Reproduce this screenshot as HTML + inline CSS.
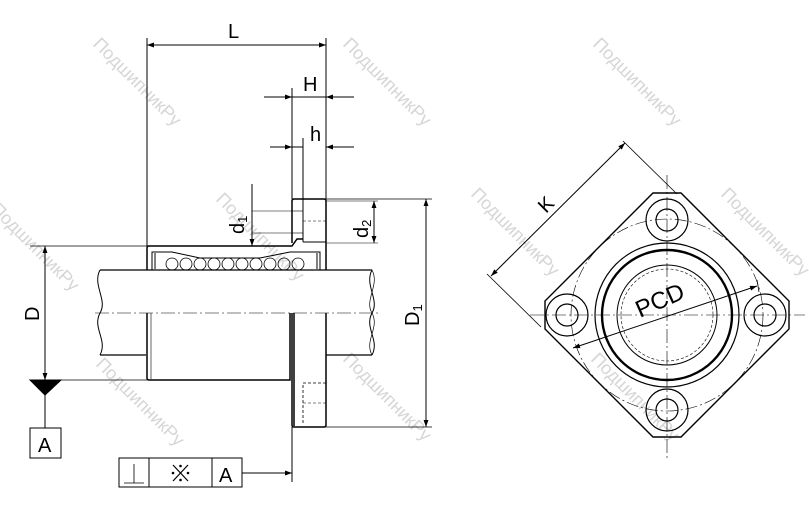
<!DOCTYPE html>
<html><head><meta charset="utf-8"><style>
html,body{margin:0;padding:0;background:#fff;}
svg{display:block;}
text{font-family:"Liberation Sans",sans-serif;}
</style></head><body>
<svg width="809" height="514" viewBox="0 0 809 514" xmlns="http://www.w3.org/2000/svg">
<defs>
<marker id="a" viewBox="0 0 10 10" refX="10" refY="5" markerWidth="9" markerHeight="7" orient="auto-start-reverse" markerUnits="userSpaceOnUse"><path d="M0,1.5 L10,5 L0,8.5 z" fill="#000"/></marker>
</defs>
<g fill="#d6d6d6" font-size="18" font-family="Liberation Serif,serif">
<text transform="translate(92,45) rotate(45)">ПодшипникРу</text>
<text transform="translate(342,45) rotate(45)">ПодшипникРу</text>
<text transform="translate(592,45) rotate(45)">ПодшипникРу</text>
<text transform="translate(-10,210) rotate(45)">ПодшипникРу</text>
<text transform="translate(215,200) rotate(45)">ПодшипникРу</text>
<text transform="translate(470,195) rotate(45)">ПодшипникРу</text>
<text transform="translate(720,195) rotate(45)">ПодшипникРу</text>
<text transform="translate(95,365) rotate(45)">ПодшипникРу</text>
<text transform="translate(342,360) rotate(45)">ПодшипникРу</text>
<text transform="translate(590,360) rotate(45)">ПодшипникРу</text>
</g>
<g stroke="#000" fill="none" stroke-width="1">
<line x1="147" y1="38" x2="147" y2="246"/>
<line x1="326" y1="38" x2="326" y2="199"/>
<line x1="147" y1="45" x2="326" y2="45" marker-start="url(#a)" marker-end="url(#a)"/>
<line x1="292" y1="88" x2="292" y2="199"/>
<line x1="264" y1="97" x2="292" y2="97" marker-end="url(#a)"/>
<line x1="354" y1="97" x2="326" y2="97" marker-end="url(#a)"/>
<line x1="292" y1="97" x2="326" y2="97"/>
<line x1="303" y1="138" x2="303" y2="199"/>
<line x1="275" y1="147" x2="303" y2="147"/>
<line x1="354" y1="147" x2="326" y2="147" marker-end="url(#a)"/>
<line x1="270" y1="147" x2="292" y2="147" marker-end="url(#a)"/>
<path d="M292,243 L292,201 Q292,199 294,199 L324,199 Q326,199 326,201 L326,246" stroke-width="1.5"/>
<line x1="303" y1="199" x2="303" y2="242"/>
<line x1="303" y1="242" x2="326" y2="242"/>
<line x1="292" y1="211" x2="303" y2="211" stroke-width="0.6"/>
<line x1="292" y1="233" x2="303" y2="233" stroke-width="0.6"/>
<line x1="303" y1="221" x2="326" y2="221" stroke-width="0.5" stroke-dasharray="3,2"/>
<path d="M147,270 L147,248 Q147,246 149,246 L292,246 L297,239 L303,239" stroke-width="1.5"/>
<line x1="326" y1="246" x2="326" y2="270" stroke-width="1.5"/>
<path d="M152,270 L152,252 L172,252 L200,258 L260,258 L290,252 L320,252 L320,270"/>
<line x1="155" y1="253" x2="155" y2="269"/>
<line x1="317" y1="253" x2="317" y2="269"/>
<g stroke-width="0.8">
<circle cx="172" cy="264" r="6"/><circle cx="186" cy="264" r="6"/><circle cx="200" cy="264" r="6"/><circle cx="214" cy="264" r="6"/><circle cx="228" cy="264" r="6"/><circle cx="242" cy="264" r="6"/><circle cx="256" cy="264" r="6"/><circle cx="270" cy="264" r="6"/><circle cx="284" cy="264" r="6"/><circle cx="298" cy="264" r="6"/>
</g>
<line x1="100" y1="270" x2="372" y2="270" stroke-width="1.2"/>
<line x1="100" y1="355" x2="146" y2="355" stroke-width="1.2"/>
<line x1="326" y1="355" x2="372" y2="355" stroke-width="1.2"/>
<path d="M100,270 C92,285 108,300 100,313 C92,328 108,340 100,355"/>
<path d="M372,270 C364,285 380,300 372,313 C364,328 380,340 372,355"/>
<path d="M372,270 C380,285 364,300 372,313 C380,328 364,340 372,355" stroke-width="0.7"/>
<line x1="95" y1="313" x2="380" y2="313" stroke-width="0.6" stroke-dasharray="14,3,2,3"/>
<path d="M147,313 L147,378 Q147,380 149,380 L290,380 L290,313" stroke-width="1.5"/>
<line x1="151" y1="313" x2="151" y2="379" stroke-width="0.6"/>
<path d="M292,313 L292,425 Q292,427 294,427 L324,427 Q326,427 326,425 L326,313" stroke-width="1.5"/>
<line x1="294" y1="313" x2="294" y2="426" stroke-width="1.5"/>
<path d="M326,383 L303,383 L303,425" stroke-dasharray="3,2" stroke-width="0.8"/>
<line x1="303" y1="403" x2="326" y2="403" stroke-dasharray="3,2" stroke-width="0.5"/>
<line x1="30" y1="246" x2="147" y2="246" stroke-width="0.8"/>
<line x1="30" y1="380" x2="147" y2="380" stroke-width="0.8"/>
<line x1="45" y1="246" x2="45" y2="380" marker-start="url(#a)" marker-end="url(#a)"/>
<path d="M30,380 L61,380 L45,395 z" fill="#000"/>
<line x1="45" y1="395" x2="45" y2="428"/>
<rect x="30" y="428" width="31" height="30"/>
<line x1="326" y1="199" x2="432" y2="199" stroke-width="0.8"/>
<line x1="326" y1="427" x2="432" y2="427" stroke-width="0.8"/>
<line x1="426" y1="199" x2="426" y2="427" marker-start="url(#a)" marker-end="url(#a)"/>
<line x1="252" y1="184" x2="252" y2="246" marker-end="url(#a)"/>
<line x1="252" y1="211" x2="292" y2="211" stroke-width="0.6"/>
<line x1="252" y1="233" x2="292" y2="233" stroke-width="0.6"/>
<line x1="326" y1="201" x2="378" y2="201" stroke-width="0.6"/>
<line x1="326" y1="243" x2="378" y2="243" stroke-width="0.6"/>
<line x1="374" y1="201" x2="374" y2="243" marker-start="url(#a)" marker-end="url(#a)"/>
<rect x="119" y="458" width="123" height="29"/>
<line x1="149" y1="458" x2="149" y2="487"/>
<line x1="212" y1="458" x2="212" y2="487"/>
<line x1="242" y1="473" x2="292" y2="473" marker-end="url(#a)"/>
<line x1="292" y1="427" x2="292" y2="482"/>
<path d="M124,483 L144,483 M134,483 L134,464" stroke-width="0.8"/>
<path d="M173,465 L188,481 M188,465 L173,481" stroke-width="1.2"/>
<polygon points="653,193 681,193 789,301 789,329 681,437 653,437 545,329 545,301" stroke-width="1.4"/>
<circle cx="667" cy="315" r="96" stroke-width="0.6" stroke-dasharray="12,3,2,3"/>
<circle cx="667" cy="315" r="72" stroke-width="1.2"/>
<circle cx="667" cy="315" r="65" stroke-width="2.4"/>
<circle cx="667" cy="315" r="50" stroke-width="1"/>
<circle cx="667" cy="315" r="46" stroke-width="0.6" stroke-dasharray="3,2"/>
<g stroke-width="1.2">
<circle cx="667" cy="220" r="21"/><circle cx="667" cy="220" r="11"/>
<circle cx="667" cy="410" r="21"/><circle cx="667" cy="410" r="11"/>
<circle cx="567" cy="315" r="21"/><circle cx="567" cy="315" r="11"/>
<circle cx="765" cy="315" r="21"/><circle cx="765" cy="315" r="11"/>
</g>
<line x1="530" y1="315" x2="805" y2="315" stroke-width="0.6" stroke-dasharray="14,3,2,3"/>
<line x1="667" y1="175" x2="667" y2="458" stroke-width="0.6" stroke-dasharray="14,3,2,3"/>
<line x1="623" y1="141" x2="677" y2="194" stroke-width="0.8"/>
<line x1="487" y1="274" x2="541" y2="327" stroke-width="0.8"/>
<line x1="625" y1="143" x2="491" y2="276" marker-start="url(#a)" marker-end="url(#a)"/>
<line x1="573" y1="348" x2="757" y2="286" marker-start="url(#a)" marker-end="url(#a)"/>
<line x1="757" y1="280" x2="759" y2="292" stroke-width="0.8"/>
</g>
<g fill="#000">
<circle cx="180.5" cy="466" r="1.3"/><circle cx="180.5" cy="480" r="1.3"/><circle cx="173" cy="473" r="1.3"/><circle cx="188" cy="473" r="1.3"/>
</g>
<g font-size="20" fill="#000">
<text x="228" y="38">L</text>
<text x="303" y="91">H</text>
<text x="310" y="141">h</text>
<text transform="translate(244,234) rotate(-90)">d<tspan font-size="13" dy="3">1</tspan></text>
<text transform="translate(368,238) rotate(-90)">d<tspan font-size="13" dy="3">2</tspan></text>
<text transform="translate(39,321) rotate(-90)">D</text>
<text transform="translate(419,326) rotate(-90)">D<tspan font-size="13" dy="3">1</tspan></text>
<text x="38" y="452">A</text>
<text x="219" y="482">A</text>
<text transform="translate(546,214) rotate(-45)">K</text>
<text transform="translate(640,318) rotate(-24)" font-size="24">PCD</text>
</g>
</svg>
</body></html>
